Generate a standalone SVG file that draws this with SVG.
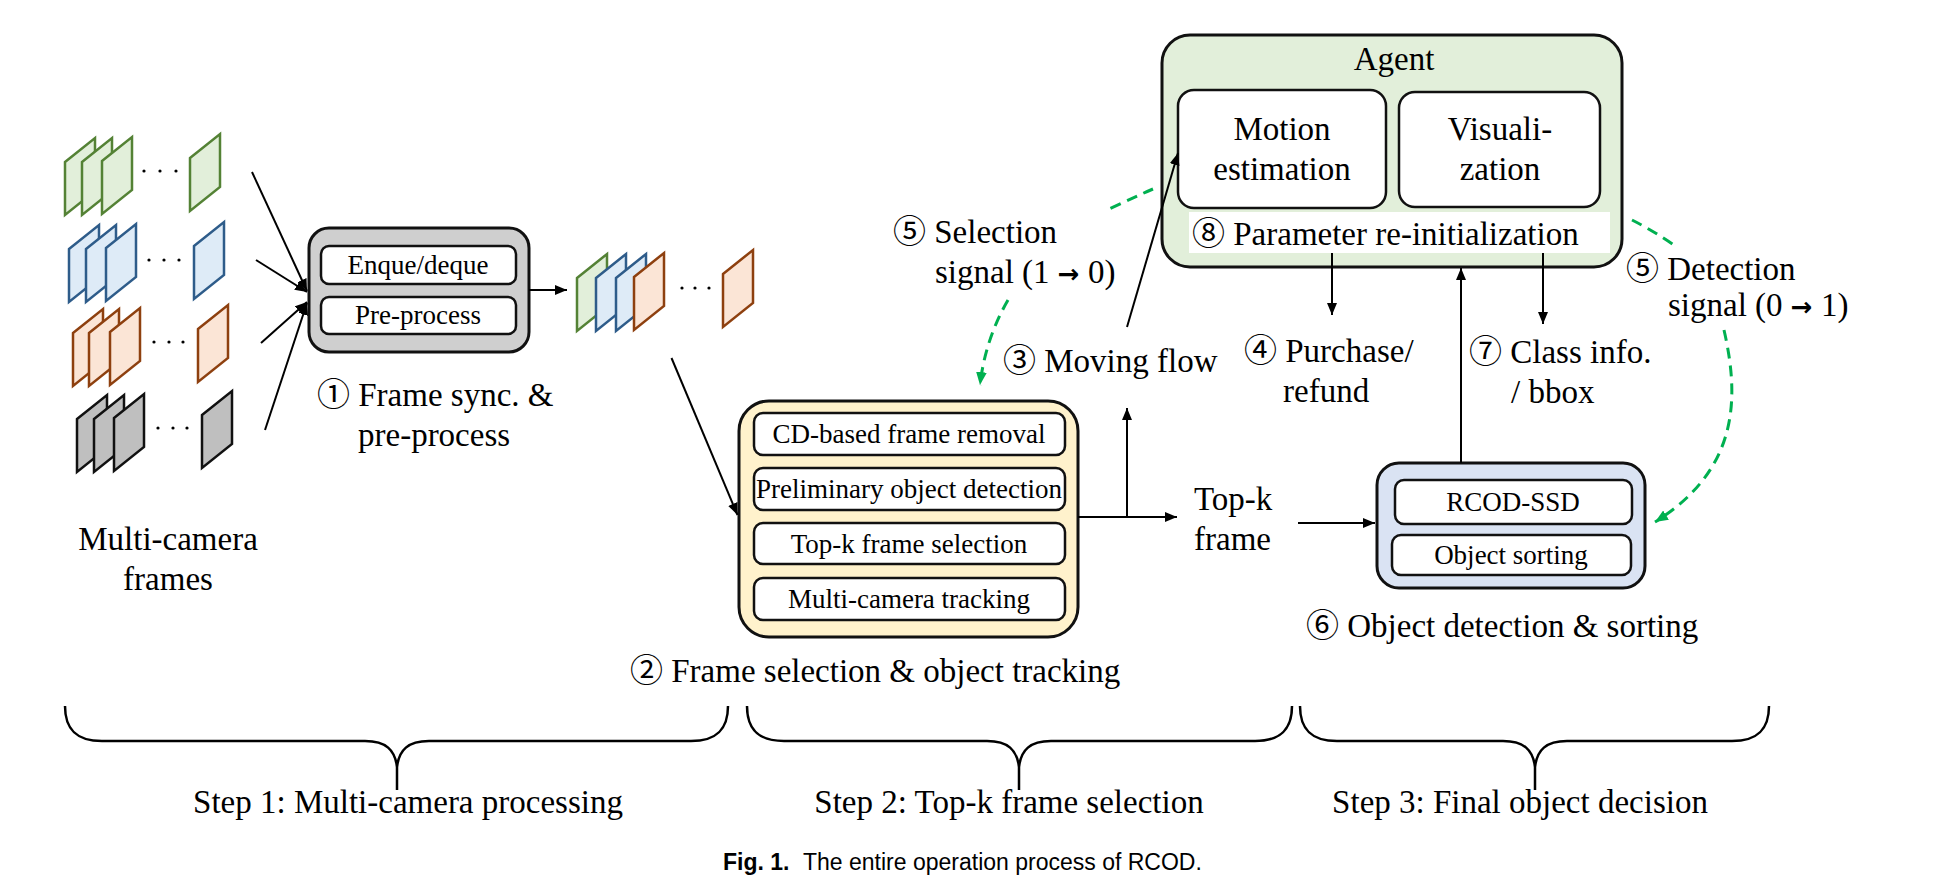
<svg xmlns="http://www.w3.org/2000/svg" width="1937" height="890" viewBox="0 0 1937 890">
<style>
text{font-family:"Liberation Serif","Noto Sans CJK JP",serif;fill:#000}
.L{font-size:33px}
.S{font-size:27px}
.m{text-anchor:middle}
.arw{font-family:"DejaVu Sans",sans-serif;font-weight:bold;font-size:26px}
.box{stroke:#111;stroke-width:3}
.in{fill:#fff;stroke:#111;stroke-width:2.5}
.ln{stroke:#000;stroke-width:2;fill:none}
.gd{stroke:#00B050;stroke-width:3;fill:none;stroke-dasharray:11 7}
.fg{fill:#E2EFDA;stroke:#548235;stroke-width:2.5}
.fb{fill:#DEEBF7;stroke:#2E5C8A;stroke-width:2.5}
.fo{fill:#FBE5D6;stroke:#8E400F;stroke-width:2.5}
.fk{fill:#BFBFBF;stroke:#111;stroke-width:2.5}
.dot{fill:#000}
.brace{fill:none;stroke:#000;stroke-width:2.5}
.cap{font-family:"Liberation Sans",sans-serif;font-size:23px}
</style>
<defs>
<path id="pf" d="M0,24 L30,0 L30,53 L0,77 Z"/>
<marker id="ah" viewBox="0 0 12 10" refX="12" refY="5" markerWidth="12" markerHeight="10" markerUnits="userSpaceOnUse" orient="auto"><path d="M0,0L12,5L0,10z" fill="#000"/></marker>
<marker id="gh" viewBox="0 0 12 10" refX="12" refY="5" markerWidth="13" markerHeight="11" markerUnits="userSpaceOnUse" orient="auto"><path d="M0,0L12,5L0,10z" fill="#00B050"/></marker>
</defs>
<rect width="1937" height="890" fill="#fff"/>

<g id="multi-camera-frames">
<use href="#pf" class="fg" x="65" y="138"/><use href="#pf" class="fg" x="82" y="138"/><use href="#pf" class="fg" x="102" y="137"/>
<circle class="dot" cx="144" cy="171" r="1.6"/><circle class="dot" cx="160" cy="171" r="1.6"/><circle class="dot" cx="176" cy="171" r="1.6"/>
<use href="#pf" class="fg" x="190" y="134"/>
<use href="#pf" class="fb" x="69" y="225"/><use href="#pf" class="fb" x="86" y="225"/><use href="#pf" class="fb" x="106" y="224"/>
<circle class="dot" cx="149" cy="260" r="1.6"/><circle class="dot" cx="164" cy="260" r="1.6"/><circle class="dot" cx="179" cy="260" r="1.6"/>
<use href="#pf" class="fb" x="194" y="222"/>
<use href="#pf" class="fo" x="73" y="309"/><use href="#pf" class="fo" x="89" y="309"/><use href="#pf" class="fo" x="110" y="308"/>
<circle class="dot" cx="154" cy="342" r="1.6"/><circle class="dot" cx="169" cy="342" r="1.6"/><circle class="dot" cx="183" cy="342" r="1.6"/>
<use href="#pf" class="fo" x="198" y="305"/>
<use href="#pf" class="fk" x="77" y="395"/><use href="#pf" class="fk" x="94" y="395"/><use href="#pf" class="fk" x="114" y="394"/>
<circle class="dot" cx="158" cy="428" r="1.6"/><circle class="dot" cx="173" cy="428" r="1.6"/><circle class="dot" cx="187" cy="428" r="1.6"/>
<use href="#pf" class="fk" x="202" y="391"/>
<text class="L m" x="168" y="550">Multi-camera</text>
<text class="L m" x="168" y="590">frames</text>
</g>

<g id="frame-sync">
<rect class="box" x="309" y="228" width="220" height="124" rx="20" fill="#CFCFCF"/>
<rect class="in" x="321" y="246" width="195" height="38" rx="8"/>
<rect class="in" x="321" y="297" width="195" height="37" rx="8"/>
<text class="S m" x="418" y="274">Enque/deque</text>
<text class="S m" x="418" y="324">Pre-process</text>
<text class="L" x="317" y="406">① Frame sync. &amp;</text>
<text class="L" x="358" y="446">pre-process</text>
</g>

<g id="synced-frames">
<use href="#pf" class="fg" x="577" y="254"/><use href="#pf" class="fb" x="596" y="254"/><use href="#pf" class="fb" x="616" y="254"/><use href="#pf" class="fo" x="634" y="253"/>
<circle class="dot" cx="682" cy="288" r="1.6"/><circle class="dot" cx="695" cy="288" r="1.6"/><circle class="dot" cx="709" cy="288" r="1.6"/>
<use href="#pf" class="fo" x="723" y="250"/>
</g>

<g id="frame-selection">
<rect class="box" x="739" y="401" width="339" height="236" rx="30" fill="#FFF2CC"/>
<rect class="in" x="754" y="413" width="311" height="42" rx="9"/>
<rect class="in" x="754" y="468" width="311" height="42" rx="9"/>
<rect class="in" x="754" y="523" width="311" height="41" rx="9"/>
<rect class="in" x="754" y="578" width="311" height="42" rx="9"/>
<text class="S m" x="909" y="443">CD-based frame removal</text>
<text class="S m" x="909" y="498">Preliminary object detection</text>
<text class="S m" x="909" y="553">Top-k frame selection</text>
<text class="S m" x="909" y="608">Multi-camera tracking</text>
<text class="L" x="630" y="682">②  Frame selection &amp; object tracking</text>
</g>

<g id="agent">
<rect class="box" x="1162" y="35" width="460" height="232" rx="28" fill="#E2EFDA"/>
<text class="L m" x="1394" y="70">Agent</text>
<rect class="in" x="1178" y="90" width="208" height="118" rx="16"/>
<rect class="in" x="1399" y="92" width="201" height="115" rx="16"/>
<text class="L m" x="1282" y="140">Motion</text>
<text class="L m" x="1282" y="180">estimation</text>
<text class="L m" x="1500" y="140">Visuali-</text>
<text class="L m" x="1500" y="180">zation</text>
<rect x="1189" y="212" width="421" height="41" fill="#fff"/>
<text class="L" x="1192" y="245">⑧ Parameter re-initialization</text>
</g>

<g id="object-detection">
<rect class="box" x="1377" y="463" width="268" height="125" rx="22" fill="#DAE3F3"/>
<rect class="in" x="1395" y="480" width="237" height="44" rx="9"/>
<rect class="in" x="1392" y="535" width="239" height="40" rx="9"/>
<text class="S m" x="1513" y="511">RCOD-SSD</text>
<text class="S m" x="1511" y="564">Object sorting</text>
<text class="L" x="1306" y="637">⑥ Object detection &amp; sorting</text>
</g>

<g id="labels">
<text class="L" x="893" y="243">⑤ Selection</text>
<text class="L" x="935" y="283">signal (1 <tspan class="arw">→</tspan> 0)</text>
<text class="L" x="1003" y="372">③ Moving flow</text>
<text class="L" x="1244" y="362">④ Purchase/</text>
<text class="L" x="1283" y="402">refund</text>
<text class="L" x="1469" y="363">⑦ Class info.</text>
<text class="L" x="1511" y="403">/ bbox</text>
<text class="L" x="1626" y="280">⑤ Detection</text>
<text class="L" x="1668" y="316">signal (0 <tspan class="arw">→</tspan> 1)</text>
<text class="L" x="1194" y="510">Top-k</text>
<text class="L" x="1194" y="550">frame</text>
</g>

<g id="connectors">
<path class="ln" d="M252,172 L307,291" marker-end="url(#ah)"/>
<path class="ln" d="M256,260 L307,292" marker-end="url(#ah)"/>
<path class="ln" d="M261,343 L307,302" marker-end="url(#ah)"/>
<path class="ln" d="M265,430 L307,303" marker-end="url(#ah)"/>
<path class="ln" d="M529,290 L567,290" marker-end="url(#ah)"/>
<path class="ln" d="M671.5,358 L737.5,515" marker-end="url(#ah)"/>
<path class="ln" d="M1078,517 L1177,517" marker-end="url(#ah)"/>
<path class="ln" d="M1127,517 L1127,408" marker-end="url(#ah)"/>
<path class="ln" d="M1127,327 L1178,153" marker-end="url(#ah)"/>
<path class="ln" d="M1298,523 L1375,523" marker-end="url(#ah)"/>
<path class="ln" d="M1332,253 L1332,315" marker-end="url(#ah)"/>
<path class="ln" d="M1543,253 L1543,324" marker-end="url(#ah)"/>
<path class="ln" d="M1461,463 L1461,268" marker-end="url(#ah)"/>
<path class="gd" d="M1153,189 Q1130,199 1105,211"/>
<path class="gd" d="M1008,300 Q985,340 980,385" marker-end="url(#gh)"/>
<path class="gd" d="M1632,220 Q1652,230 1674,245"/>
<path class="gd" d="M1724,330 C1740,400 1738,470 1655,522" marker-end="url(#gh)"/>
</g>

<g id="steps">
<path class="brace" d="M65,706 C65,728 75,741 102,741 L365,741 C386,741 395,750 397,767 C399,750 408,741 429,741 L691,741 C718,741 728,728 728,706 M397,765 L397,790"/>
<path class="brace" d="M747,706 C747,728 757,741 784,741 L987,741 C1008,741 1017,750 1019,767 C1021,750 1030,741 1051,741 L1255,741 C1282,741 1292,728 1292,706 M1019,765 L1019,790"/>
<path class="brace" d="M1300,706 C1300,728 1310,741 1337,741 L1503,741 C1524,741 1533,750 1535,767 C1537,750 1546,741 1567,741 L1732,741 C1759,741 1769,728 1769,706 M1535,765 L1535,790"/>
<text class="L m" x="408" y="813">Step 1: Multi-camera processing</text>
<text class="L m" x="1009" y="813">Step 2: Top-k frame selection</text>
<text class="L m" x="1520" y="813">Step 3: Final object decision</text>
</g>

<g id="caption">
<text class="cap" x="723" y="870" font-weight="bold">Fig. 1.</text>
<text class="cap" x="803" y="870">The entire operation process of RCOD.</text>
</g>
</svg>
